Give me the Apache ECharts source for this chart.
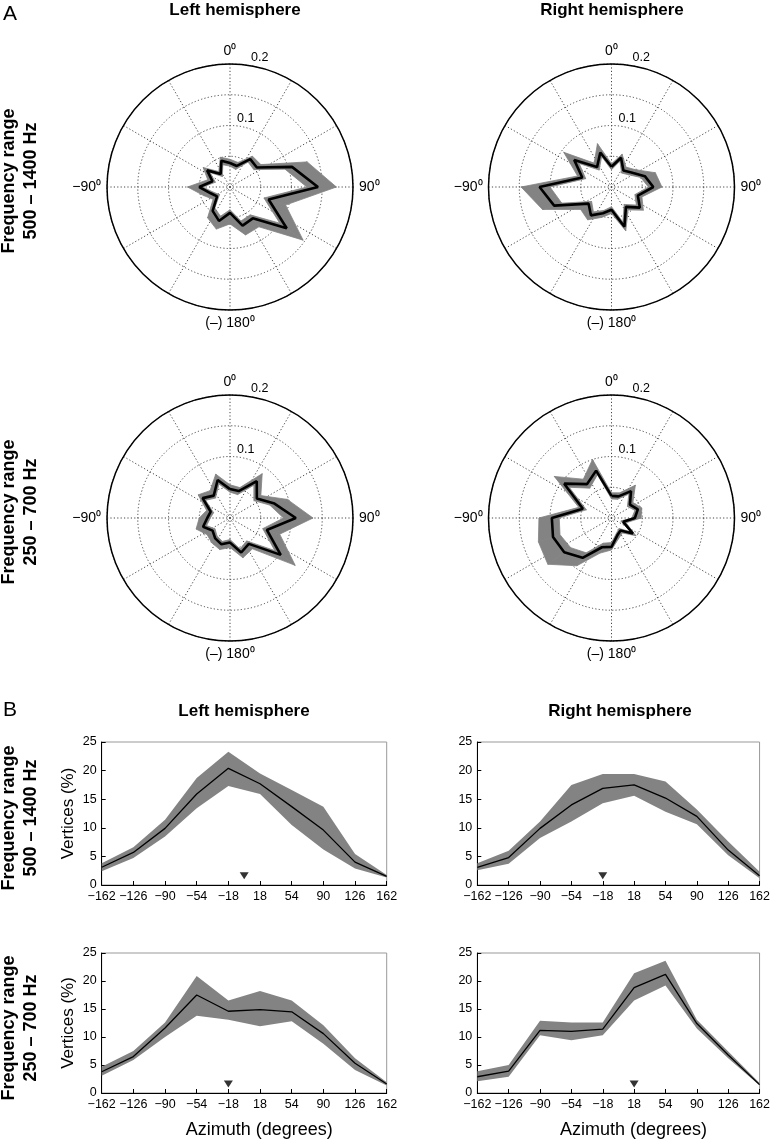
<!DOCTYPE html>
<html><head><meta charset="utf-8">
<script src="https://cdn.jsdelivr.net/npm/echarts@6/dist/echarts.min.js"></script>
<style>html,body{margin:0;padding:0;background:#fff}#c{width:773px;height:1140px}</style>
</head><body><div id="c"></div>
<script>
const FONT = "'Liberation Sans', Arial, Helvetica, sans-serif";
const GRAY = '#838383';

// ---- Polar plots (A): angle in degrees (0 = front, clockwise) ----
const polarAngles = [0,18,36,54,72,90,108,126,144,162,180,198,216,234,252,270,288,306,324,342];
// Left hemisphere, 500-1400 Hz
const polLH1Mean = [.039,.036,.056,.054,.106,.143,.066,.114,.063,.066,.042,.058,.048,.026,.033,.050,.030,.046,.026,.045];
const polLH1Lo   = [.034,.030,.050,.048,.094,.125,.058,.100,.056,.058,.037,.050,.042,.021,.028,.044,.025,.040,.021,.038];
const polLH1Up   = [.045,.042,.062,.062,.132,.173,.095,.147,.080,.082,.060,.072,.062,.034,.045,.069,.038,.054,.031,.051];
// Right hemisphere, 500-1400 Hz
const polRH1Mean = [.033,.050,.033,.040,.057,.068,.045,.057,.040,.068,.037,.045,.057,.046,.098,.117,.050,.075,.040,.059];
const polRH1Lo   = [.028,.044,.028,.034,.050,.060,.040,.050,.035,.060,.032,.040,.050,.040,.085,.100,.044,.065,.034,.052];
const polRH1Up   = [.038,.056,.040,.048,.075,.082,.052,.064,.046,.075,.043,.052,.066,.062,.118,.147,.058,.096,.048,.074];
// Left hemisphere, 250-700 Hz
const polLH2Mean = [.047,.046,.074,.054,.076,.107,.063,.102,.052,.059,.040,.045,.041,.035,.046,.037,.033,.055,.045,.065];
const polLH2Lo   = [.042,.040,.066,.048,.068,.087,.056,.090,.046,.053,.035,.040,.036,.030,.040,.032,.028,.049,.040,.058];
const polLH2Up   = [.054,.052,.089,.062,.098,.135,.085,.131,.062,.068,.048,.054,.050,.046,.058,.050,.040,.064,.055,.075];
// Right hemisphere, 250-700 Hz
const polRH2Mean = [.036,.037,.054,.037,.045,.038,.020,.043,.025,.030,.047,.050,.080,.095,.100,.097,.049,.095,.068,.081];
const polRH2Lo   = [.031,.032,.048,.032,.040,.033,.016,.038,.021,.026,.040,.043,.070,.082,.088,.085,.043,.085,.060,.074];
const polRH2Up   = [.041,.043,.066,.043,.052,.048,.025,.049,.030,.036,.052,.060,.096,.128,.125,.118,.056,.115,.078,.100];

const polarAngleLabels = {0:'0\u2070', 90:'90\u2070', 180:'(\u2013) 180\u2070', 270:'\u221290\u2070'};
const polarRadiusLabels = [0.1, 0.2];

// ---- Line plots (B) ----
const azimuthTicks = [-162,-126,-90,-54,-18,18,54,90,126,162];
const lnLH1Mean = [3.1,5.7,9.9,15.9,20.4,17.7,13.7,9.6,4.0,1.5];
const lnLH1Lo   = [2.4,4.7,8.5,13.4,17.3,15.9,10.5,6.2,2.9,1.3];
const lnLH1Up   = [3.8,6.6,11.4,18.7,23.3,19.5,16.6,13.7,5.4,1.75];
const lnRH1Mean = [3.1,4.8,9.9,14.0,16.9,17.5,15.2,12.0,6.1,1.6];
const lnRH1Lo   = [2.6,3.7,8.2,11.1,14.3,15.6,12.8,10.6,5.2,1.2];
const lnRH1Up   = [3.8,6.0,11.1,17.5,19.4,19.4,18.1,13.2,7.6,2.3];
const lnLH2Mean = [3.8,6.5,11.6,17.5,14.6,14.9,14.5,10.6,5.3,1.6];
const lnLH2Lo   = [3.1,5.9,10.0,13.8,13.1,11.9,12.8,8.8,4.1,1.35];
const lnLH2Up   = [4.7,7.5,12.6,20.9,16.5,18.2,16.5,12.1,6.2,1.9];
const lnRH2Mean = [2.9,3.9,11.2,11.0,11.4,18.8,21.2,12.4,6.8,1.5];
const lnRH2Lo   = [2.1,2.9,10.3,9.4,10.3,16.5,19.2,11.5,6.2,1.35];
const lnRH2Up   = [3.9,5.0,12.9,12.6,12.6,21.4,23.6,13.1,7.4,1.8];
const peakMarkers = [0, -18, -18, 18];
const markerLevel = 1.6;

const polars = [
  {center:[230,187],   mean:polLH1Mean, lo:polLH1Lo, up:polLH1Up},
  {center:[611.5,187], mean:polRH1Mean, lo:polRH1Lo, up:polRH1Up},
  {center:[230,518],   mean:polLH2Mean, lo:polLH2Lo, up:polLH2Up},
  {center:[611.5,518], mean:polRH2Mean, lo:polRH2Lo, up:polRH2Up}
];
const lines = [
  {left:101.7, top:742, mean:lnLH1Mean, lo:lnLH1Lo, up:lnLH1Up, yName:true,  xName:false},
  {left:477.3, top:742, mean:lnRH1Mean, lo:lnRH1Lo, up:lnRH1Up, yName:false, xName:false},
  {left:101.7, top:953, mean:lnLH2Mean, lo:lnLH2Lo, up:lnLH2Up, yName:true,  xName:true},
  {left:477.3, top:953, mean:lnRH2Mean, lo:lnRH2Lo, up:lnRH2Up, yName:false, xName:true}
];

const dotted = {color:'#444', width:1, type:[1.2,2.2]};
const series = [];

polars.forEach((p, i) => {
  series.push({
    type:'custom', coordinateSystem:'polar', polarIndex:i, silent:true,
    encode:{radius:0, angle:2},
    data: polarAngles.map((a, k) => [p.lo[k], p.up[k], a]),
    renderItem: (params, api) => {
      const n = params.dataInsideLength;
      const k = params.dataIndexInside, j = (k + 1) % n;
      const a0 = api.value(2, k), a1 = api.value(2, j);
      const pts = [
        api.coord([api.value(0, k), a0]), api.coord([api.value(1, k), a0]),
        api.coord([api.value(1, j), a1]), api.coord([api.value(0, j), a1])
      ];
      return {type:'polygon', shape:{points:pts}, style:{fill:GRAY, stroke:GRAY, lineWidth:0.8}};
    },
    z:2
  });
  const closed = polarAngles.map((a, k) => [p.mean[k], a]);
  closed.push([p.mean[0], 360]);
  series.push({
    type:'line', coordinateSystem:'polar', polarIndex:i, data:closed,
    symbol:'none', silent:true, lineStyle:{color:'#000', width:2.6}, z:4
  });
});

lines.forEach((g, i) => {
  series.push({type:'custom', xAxisIndex:i, yAxisIndex:i, silent:true,
    encode:{x:0, y:[1,2]},
    data: azimuthTicks.map((x, k) => [x, g.lo[k], g.up[k]]),
    renderItem: (params, api) => {
      if (params.dataIndexInside !== 0) return null;
      const n = params.dataInsideLength, top = [], bot = [];
      for (let k = 0; k < n; k++) {
        const x = api.value(0, k);
        top.push(api.coord([x, api.value(2, k)]));
        bot.push(api.coord([x, api.value(1, k)]));
      }
      return {type:'polygon', shape:{points: top.concat(bot.reverse())}, style:{fill:GRAY}};
    },
    z:2});
  series.push({type:'line', xAxisIndex:i, yAxisIndex:i, symbol:'none', silent:true,
    data: azimuthTicks.map((x, k) => [x, g.mean[k]]), lineStyle:{color:'#000', width:1.3}, z:5});
  series.push({type:'scatter', xAxisIndex:i, yAxisIndex:i, silent:true,
    data:[[peakMarkers[i], markerLevel]], symbol:'triangle', symbolRotate:180, symbolSize:[9,7],
    itemStyle:{color:'#000'}, z:6});
});

const minus = v => String(v).replace('-', '\u2212');
const boldText = (x, y, text, size) => ({type:'text', x, y,
  style:{text, font:'bold ' + size + 'px ' + FONT, fill:'#000', align:'center', verticalAlign:'middle'}});
const rowLabel = (y, text) => ({type:'text', x:20, y, rotation:Math.PI/2,
  style:{text, font:'bold 18px ' + FONT, lineHeight:22.5, fill:'#000', align:'center', verticalAlign:'middle'}});

const option = {
  animation:false,
  backgroundColor:'#fff',
  textStyle:{fontFamily:FONT},
  polar: polars.map(p => ({center:p.center, radius:123})),
  angleAxis: polars.map((p, i) => ({
    polarIndex:i, type:'value', min:0, max:360, interval:30, startAngle:90, clockwise:true,
    axisLine:{show:true, lineStyle:{color:'#000', width:1.5}},
    axisTick:{show:false},
    axisLabel:{show:true, margin:6, color:'#000', fontSize:14, fontFamily:FONT,
      formatter: v => polarAngleLabels[v] || ''},
    splitLine:{show:true, lineStyle:dotted}
  })),
  radiusAxis: polars.map((p, i) => ({
    polarIndex:i, type:'value', min:0, max:0.2, interval:0.05,
    axisLine:{show:false}, axisTick:{show:false},
    axisLabel:{show:true, color:'#000', fontSize:12.5, fontFamily:FONT, margin:-7, align:'left', verticalAlign:'bottom',
      formatter: v => {
        const hit = polarRadiusLabels.find(r => Math.abs(r - v) < 1e-9);
        if (hit === undefined) return '';
        return hit > 0.15 ? '{far|' + hit + '}' : String(hit);
      },
      rich:{far:{padding:[0,0,0,14], fontSize:12.5, color:'#000', fontFamily:FONT}}
    },
    splitLine:{show:true, lineStyle:dotted}
  })),
  grid: lines.map(g => ({left:g.left, top:g.top, width:285, height:143, show:true,
    borderColor:'#999', borderWidth:1, containLabel:false})),
  xAxis: lines.map((g, i) => ({
    gridIndex:i, type:'value', min:-162, max:162, interval:36,
    axisLine:{show:true, onZero:false, lineStyle:{color:'#000', width:1}},
    axisTick:{show:true, inside:true, length:4, customValues:azimuthTicks, lineStyle:{color:'#000'}},
    axisLabel:{show:true, customValues:azimuthTicks, color:'#000', fontSize:12.5, fontFamily:FONT, margin:5, formatter:minus},
    splitLine:{show:false},
    name: g.xName ? 'Azimuth (degrees)' : '', nameLocation:'middle', nameGap:28,
    nameTextStyle:{fontSize:18, color:'#000', fontFamily:FONT, padding:[0,0,0,30]}
  })),
  yAxis: lines.map((g, i) => ({
    gridIndex:i, type:'value', min:0, max:25, interval:5,
    axisLine:{show:true, onZero:false, lineStyle:{color:'#000', width:1}},
    axisTick:{show:true, inside:true, length:4, lineStyle:{color:'#000'}},
    axisLabel:{show:true, color:'#000', fontSize:12.5, fontFamily:FONT, margin:5},
    splitLine:{show:false},
    name: g.yName ? 'Vertices (%)' : '', nameLocation:'middle', nameGap:25, nameRotate:90,
    nameTextStyle:{fontSize:17, color:'#000', fontFamily:FONT}
  })),
  graphic: [
    {type:'text', x:3, y:4, style:{text:'A', font:'21px ' + FONT, fill:'#000'}},
    boldText(235, 10, 'Left hemisphere', 17),
    boldText(612, 10, 'Right hemisphere', 17),
    {type:'text', x:3, y:700, style:{text:'B', font:'21px ' + FONT, fill:'#000'}},
    boldText(244, 711, 'Left hemisphere', 17),
    boldText(620, 711, 'Right hemisphere', 17),
    rowLabel(181, 'Frequency range\n500 \u2013 1400 Hz'),
    rowLabel(512, 'Frequency range\n250 \u2013 700 Hz'),
    rowLabel(818, 'Frequency range\n500 \u2013 1400 Hz'),
    rowLabel(1028, 'Frequency range\n250 \u2013 700 Hz')
  ],
  series
};

const chart = echarts.init(document.getElementById('c'));
chart.setOption(option);
</script>
</body></html>
